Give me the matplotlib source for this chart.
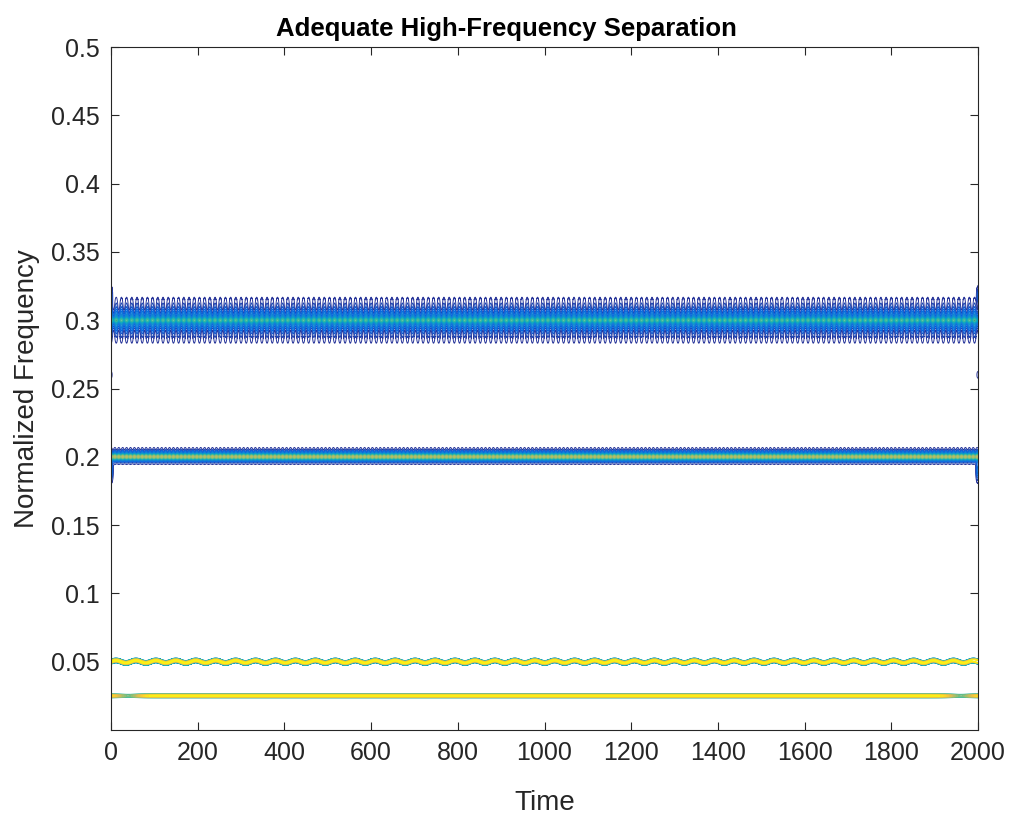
import numpy as np
import matplotlib.pyplot as plt
from matplotlib.colors import LinearSegmentedColormap

plt.rcParams['font.family'] = ['Liberation Sans', 'DejaVu Sans']

# ridges of the time-frequency map
freqs = [0.025, 0.05, 0.2, 0.3]
peak = [1.0, 1.0, 0.35, 0.2]
width = [0.0017, 0.0016, 0.0018, 0.0016]
lowest_level = [0.45, 0.3, 0.0, 0.0]
core = [0.0, 0.0, 0.25, 0.18]
core_width = [0.0, 0.0, 0.0035, 0.0055]
halo = [0.0, 0.0, 0.12, 0.17]
halo_width = [0.0, 0.0, 0.0045, 0.0128]
halo_shift = [0.0, 0.0, 0.0012, 0.0]
stripe_period = [1, 1, 9, 12]
wobble = [0.0, 0.0009, 0.0, 0.0]
wobble_period = [1, 46, 1, 1]

# end effects (ridge, time, freq, amplitude, time width, freq width)
blob_k = [2, 2, 3, 3, 3, 3, 1, 0, 0]
blob_t = [0, 2000, 0, 2000, 0, 2000, 2000, 40, 1960]
blob_f = [0.19, 0.19, 0.318, 0.318, 0.26, 0.26, 0.05, 0.025, 0.025]
blob_a = [0.2, 0.2, 0.12, 0.12, 0.06, 0.06, 0.3, -0.4, -0.4]
blob_tw = [4, 4, 3, 3, 3, 3, 12, 30, 30]
blob_fw = [0.007, 0.007, 0.006, 0.006, 0.003, 0.003, 0.0015, 0.0012, 0.0012]

yticks = [0.05, 0.1, 0.15, 0.2, 0.25, 0.3, 0.35, 0.4, 0.45, 0.5]
ytick_labels = ['0.05', '0.1', '0.15', '0.2', '0.25', '0.3', '0.35', '0.4', '0.45', '0.5']
xticks = [0, 200, 400, 600, 800, 1000, 1200, 1400, 1600, 1800, 2000]

# parula-like colormap
parula = LinearSegmentedColormap.from_list('parula', [
    '#352a87', '#0363e1', '#1485d4', '#06a7c6', '#38b99e',
    '#92bf73', '#d9ba56', '#fcce2e', '#f9fb0e'])

t = np.arange(0, 2001, 1.0)
# finer frequency grid around every ridge
f = [np.linspace(0, 0.5, 501)]
for fc in freqs:
    f.append(np.linspace(fc - 0.03, fc + 0.03, 1201))
f = np.unique(np.clip(np.concatenate(f), 0, 0.5))
T, F = np.meshgrid(t, f)

fig = plt.figure(figsize=(10.12, 8.15), dpi=100)
ax = fig.add_axes([0.1097, 0.1043, 0.8567, 0.838])
levels = np.linspace(0.03, 0.97, 28)

for k in range(len(freqs)):
    fc = freqs[k] + wobble[k] * np.sin(2 * np.pi * T / wobble_period[k])
    Z = peak[k] * np.exp(-((F - fc) / width[k]) ** 2)
    if core[k] > 0:
        Z += core[k] * np.exp(-((F - freqs[k]) / core_width[k]) ** 2)
    if halo[k] > 0:
        mod = 0.5 + 0.5 * np.cos(2 * np.pi * T / stripe_period[k])
        Z += halo[k] * mod * np.exp(-((F - freqs[k] - halo_shift[k]) / halo_width[k]) ** 2)
    for j in range(len(blob_t)):
        if blob_k[j] == k:
            Z += blob_a[j] * np.exp(-((T - blob_t[j]) / blob_tw[j]) ** 2
                                    - ((F - blob_f[j]) / blob_fw[j]) ** 2)
    ax.contour(T, F, Z, levels=levels[levels >= lowest_level[k]], cmap=parula,
               vmin=0, vmax=1, linewidths=0.7)

ax.set_xlim(0, 2000)
ax.set_ylim(0, 0.5)
ax.set_xticks(xticks)
ax.set_yticks(yticks)
ax.set_yticklabels(ytick_labels)
gray = '#262626'
ax.tick_params(direction='in', length=6, width=0.8, colors=gray, labelsize=18,
               top=True, right=True, pad=8)
for s in ax.spines.values():
    s.set_color(gray)
    s.set_linewidth(0.8)
ax.set_xlabel('Time', fontsize=20, color=gray, labelpad=18)
ax.set_ylabel('Normalized Frequency', fontsize=20, color=gray, labelpad=8)
ax.set_title('Adequate High-Frequency Separation', fontsize=18.5, fontweight='bold',
             color='black', pad=8, x=0.4556)

fig.savefig('out.png', dpi=100)
